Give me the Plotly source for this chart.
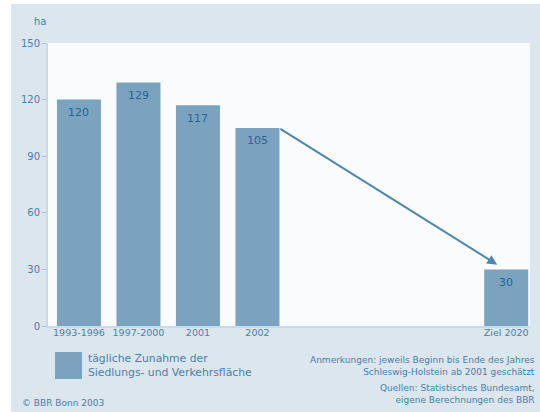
import plotly.graph_objects as go

# ---- data ----
categories = ["1993-1996", "1997-2000", "2001", "2002", "Ziel 2020"]
values = [120, 129, 117, 105, 30]
y_ticks = [0, 30, 60, 90, 120, 150]
unit_label = "ha"
legend_text = "tägliche Zunahme der<br>Siedlungs- und Verkehrsfläche"
note_text = "Anmerkungen: jeweils Beginn bis Ende des Jahres<br>Schleswig-Holstein ab 2001 geschätzt"
source_text = "Quellen: Statistisches Bundesamt,<br>eigene Berechnungen des BBR"
copyright_text = "© BBR Bonn 2003"

# ---- layout helpers (body margin removed in the page) ----
OFF = 0
W, H = 540, 412
ML, MR, MT, MB = 48, 10, 43, 86
PW, PH = W - ML - MR, H - MT - MB
x_pos = [0, 1, 2, 3, 7.18]


def px(xs):  # screen px -> paper
    return (xs - OFF - ML) / PW


def py(ys):
    return 1 - (ys - OFF - MT) / PH


BAR = "#7ba3c0"
TXT = "#4a80aa"
VAL = "#2c6390"
PANEL = "#dce6ee"
FONT = "DejaVu Sans"

fig = go.Figure()
fig.add_trace(go.Bar(
    x=x_pos, y=values, width=0.74,
    marker=dict(color=BAR, line=dict(width=0)),
    showlegend=False, hoverinfo="skip",
))

fig.update_layout(
    width=W, height=H,
    margin=dict(l=ML, r=MR, t=MT, b=MB),
    paper_bgcolor=PANEL,
    plot_bgcolor="#f9fbfd",
    font=dict(family=FONT, color=TXT, size=9),
    xaxis=dict(
        range=[-0.52, 7.58], tickmode="array", tickvals=x_pos, ticktext=categories,
        showgrid=False, zeroline=False, showline=True, linecolor="#c9d9e6", linewidth=2,
        ticks="", ticklabelstandoff=-3,
        tickfont=dict(family=FONT, size=9.5, color=TXT), fixedrange=True,
    ),
    yaxis=dict(
        range=[0, 150], tickmode="array", tickvals=y_ticks,
        showgrid=False, zeroline=False, showline=True, linecolor="#c9d9e6", linewidth=2,
        ticks="outside", ticklen=4, tickcolor="#a9c2d6",
        tickfont=dict(family=FONT, size=10, color=TXT), fixedrange=True,
    ),
)

# white strips at the far left and top (outside the panel)
fig.add_shape(type="rect", xref="paper", yref="paper",
              x0=px(0), x1=px(11), y0=py(H), y1=py(0),
              fillcolor="white", line=dict(width=0), layer="below")
fig.add_shape(type="rect", xref="paper", yref="paper",
              x0=px(0), x1=px(W), y0=py(4), y1=py(0),
              fillcolor="white", line=dict(width=0), layer="below")

# legend swatch
fig.add_shape(type="rect", xref="paper", yref="paper",
              x0=px(55), x1=px(82), y0=py(379), y1=py(352),
              fillcolor=BAR, line=dict(width=0))

# value labels inside the bars
for xp, v in zip(x_pos, values):
    fig.add_annotation(x=xp, y=v, xref="x", yref="y", text=str(v), showarrow=False,
                       yanchor="middle", yshift=-13,
                       font=dict(family=FONT, size=11, color=VAL))

annotations = [
    dict(text=unit_label, x=px(40), y=py(22), xanchor="center", yanchor="middle",
         font=dict(size=10, color=TXT)),
    dict(text=legend_text, x=px(86), y=py(366), xanchor="left", yanchor="middle",
         align="left", font=dict(size=10.8, color=TXT)),
    dict(text=note_text, x=px(537), y=py(365.5), xanchor="right", yanchor="middle",
         align="right", font=dict(size=9, color=TXT)),
    dict(text=source_text, x=px(537), y=py(394), xanchor="right", yanchor="middle",
         align="right", font=dict(size=9, color=TXT)),
    dict(text=copyright_text, x=px(20), y=py(403), xanchor="left", yanchor="middle",
         font=dict(size=9, color=TXT)),
]
for a in annotations:
    a.update(xref="paper", yref="paper", showarrow=False)
    fig.add_annotation(**a)

# trend arrow from 2002 bar to target bar
fig.add_annotation(
    x=x_pos[4] - 0.15, y=values[4] + 2.5, xref="x", yref="y",
    ax=x_pos[3] + 0.36, ay=values[3], axref="x", ayref="y",
    showarrow=True, arrowhead=2, arrowsize=1, arrowwidth=2,
    arrowcolor="#4f86ad", text="",
)

fig.write_html("out.html",
               config={"displayModeBar": False},
               post_script="document.body.style.margin='0';document.body.style.overflow='hidden';")
